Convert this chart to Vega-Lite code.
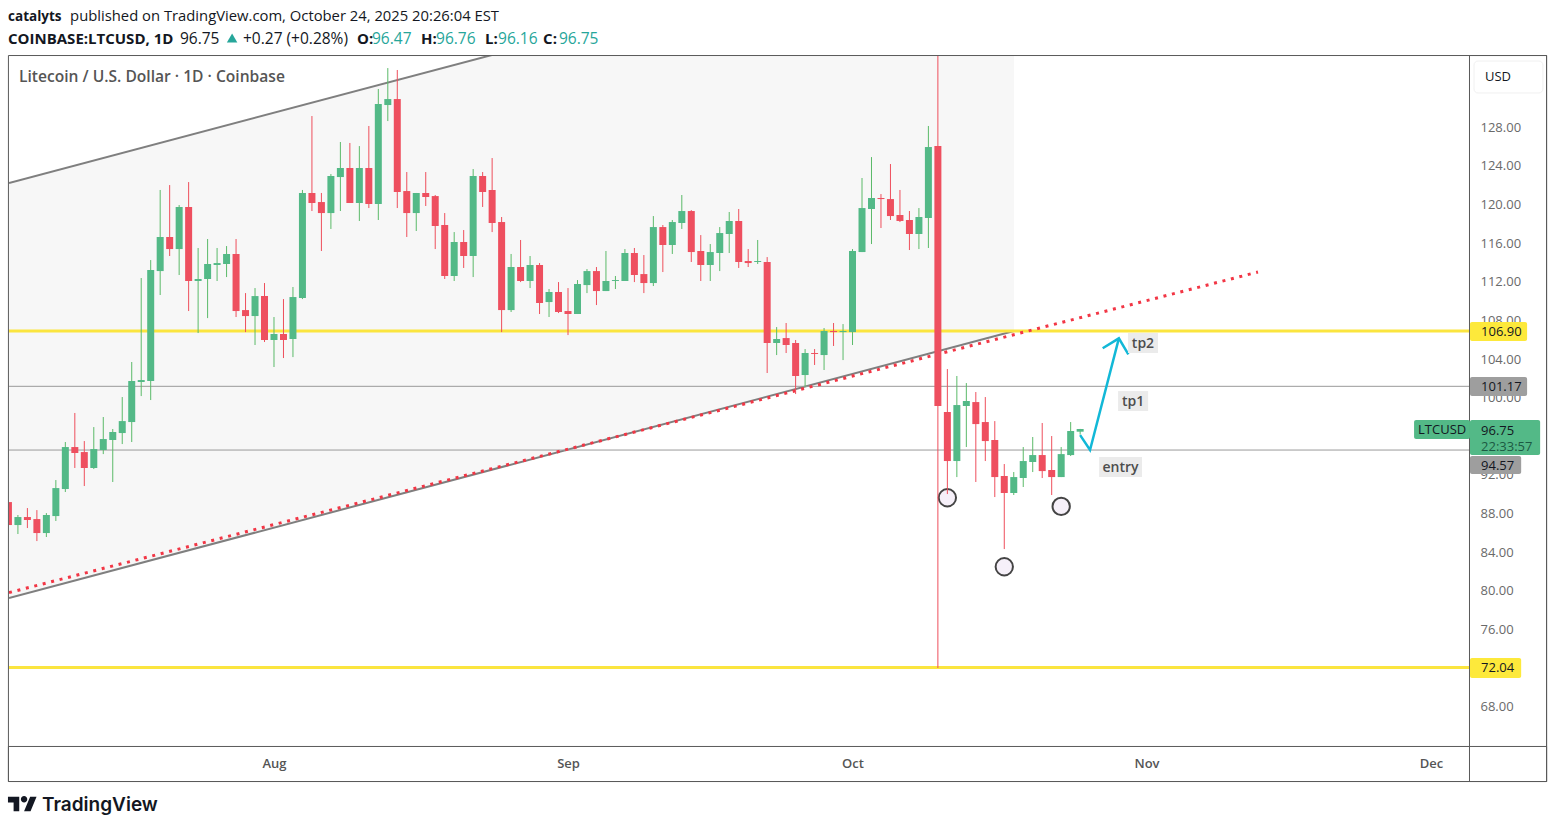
{"$schema":"https://vega.github.io/schema/vega-lite/v6.json","width":1460,"height":690,"autosize":{"type":"none"},"padding":{"left":9,"top":56,"right":86,"bottom":82},"background":"#ffffff","view":{"stroke":null},"config":{"text":{"font":"Open Sans"}},
"datasets":{"candles":[
{"d":"2025-07-04","o":89.18,"h":89.39,"l":85.76,"c":86.8},{"d":"2025-07-05","o":86.8,"h":87.84,"l":85.87,"c":87.63},{"d":"2025-07-06","o":87.63,"h":88.56,"l":86.49,"c":87.32},{"d":"2025-07-07","o":87.42,"h":88.35,"l":85.14,"c":85.97},{"d":"2025-07-08","o":85.97,"h":88.04,"l":85.56,"c":87.84},{"d":"2025-07-09","o":87.73,"h":91.46,"l":87.22,"c":90.63},{"d":"2025-07-10","o":90.53,"h":95.4,"l":90.22,"c":94.88},{"d":"2025-07-11","o":94.88,"h":98.41,"l":92.71,"c":94.26},{"d":"2025-07-12","o":94.36,"h":95.5,"l":90.84,"c":92.71},{"d":"2025-07-13","o":92.71,"h":96.95,"l":92.6,"c":94.67},{"d":"2025-07-14","o":94.57,"h":97.99,"l":94.15,"c":95.71},{"d":"2025-07-15","o":95.61,"h":96.75,"l":91.26,"c":96.44},{"d":"2025-07-16","o":96.33,"h":100.06,"l":95.19,"c":97.57},{"d":"2025-07-17","o":97.47,"h":103.69,"l":95.4,"c":101.72},{"d":"2025-07-18","o":101.62,"h":112.39,"l":100.16,"c":101.82},{"d":"2025-07-19","o":101.72,"h":114.25,"l":99.75,"c":113.22},{"d":"2025-07-20","o":113.11,"h":121.51,"l":110.63,"c":116.64},{"d":"2025-07-21","o":116.64,"h":122.02,"l":114.67,"c":115.39},{"d":"2025-07-22","o":115.39,"h":119.95,"l":112.7,"c":119.75},{"d":"2025-07-23","o":119.75,"h":122.33,"l":108.97,"c":112.08},{"d":"2025-07-24","o":112.08,"h":115.5,"l":106.69,"c":112.29},{"d":"2025-07-25","o":112.29,"h":116.43,"l":108.24,"c":113.84},{"d":"2025-07-26","o":113.74,"h":115.5,"l":112.08,"c":113.94},{"d":"2025-07-27","o":113.84,"h":115.7,"l":112.49,"c":114.88},{"d":"2025-07-28","o":114.88,"h":116.43,"l":108.35,"c":108.97},{"d":"2025-07-29","o":109.07,"h":110.83,"l":106.79,"c":108.45},{"d":"2025-07-30","o":108.45,"h":111.35,"l":105.45,"c":110.52},{"d":"2025-07-31","o":110.52,"h":111.87,"l":105.76,"c":105.97},
{"d":"2025-08-01","o":105.97,"h":108.35,"l":103.17,"c":106.59},{"d":"2025-08-02","o":106.59,"h":110.21,"l":104.1,"c":105.97},{"d":"2025-08-03","o":106.07,"h":111.46,"l":104.2,"c":110.42},{"d":"2025-08-04","o":110.32,"h":121.51,"l":110.21,"c":121.2},{"d":"2025-08-05","o":121.2,"h":129.17,"l":119.33,"c":120.16},{"d":"2025-08-06","o":120.26,"h":121.2,"l":115.19,"c":119.12},{"d":"2025-08-07","o":119.12,"h":123.16,"l":117.47,"c":122.96},{"d":"2025-08-08","o":122.85,"h":126.48,"l":119.33,"c":123.79},{"d":"2025-08-09","o":123.79,"h":126.38,"l":120.16,"c":120.16},{"d":"2025-08-10","o":120.16,"h":126.06,"l":118.3,"c":123.79},{"d":"2025-08-11","o":123.79,"h":128.14,"l":119.64,"c":120.06},{"d":"2025-08-12","o":120.06,"h":131.97,"l":118.4,"c":130.42},{"d":"2025-08-13","o":130.31,"h":134.14,"l":128.65,"c":130.93},{"d":"2025-08-14","o":130.93,"h":133.94,"l":119.64,"c":121.3},{"d":"2025-08-15","o":121.4,"h":123.37,"l":116.64,"c":119.12},{"d":"2025-08-16","o":119.12,"h":121.2,"l":117.26,"c":121.2},{"d":"2025-08-17","o":121.2,"h":123.37,"l":119.85,"c":120.78},{"d":"2025-08-18","o":120.88,"h":120.99,"l":115.39,"c":117.78},{"d":"2025-08-19","o":117.88,"h":119.12,"l":112.29,"c":112.6},{"d":"2025-08-20","o":112.6,"h":117.15,"l":112.08,"c":116.12},{"d":"2025-08-21","o":116.12,"h":117.36,"l":113.43,"c":114.67},{"d":"2025-08-22","o":114.67,"h":123.68,"l":112.49,"c":122.96},{"d":"2025-08-23","o":122.96,"h":123.37,"l":119.75,"c":121.3},{"d":"2025-08-24","o":121.51,"h":124.82,"l":117.15,"c":118.09},{"d":"2025-08-25","o":118.19,"h":118.71,"l":106.79,"c":109.07},{"d":"2025-08-26","o":109.07,"h":114.88,"l":108.87,"c":113.53},{"d":"2025-08-27","o":113.53,"h":116.33,"l":111.97,"c":112.08},{"d":"2025-08-28","o":112.08,"h":114.67,"l":111.35,"c":113.74},{"d":"2025-08-29","o":113.74,"h":113.94,"l":108.66,"c":109.8},{"d":"2025-08-30","o":109.9,"h":111.25,"l":108.35,"c":110.94},{"d":"2025-08-31","o":110.94,"h":111.97,"l":108.76,"c":108.87},
{"d":"2025-09-01","o":108.97,"h":111.35,"l":106.48,"c":108.66},{"d":"2025-09-02","o":108.66,"h":112.18,"l":108.66,"c":111.77},{"d":"2025-09-03","o":111.66,"h":113.32,"l":110.83,"c":113.11},{"d":"2025-09-04","o":113.11,"h":113.53,"l":109.59,"c":111.04},{"d":"2025-09-05","o":111.04,"h":115.19,"l":111.04,"c":112.08},{"d":"2025-09-06","o":112.08,"h":112.6,"l":111.25,"c":112.18},{"d":"2025-09-07","o":112.08,"h":115.39,"l":112.08,"c":114.98},{"d":"2025-09-08","o":114.98,"h":115.5,"l":111.97,"c":112.7},{"d":"2025-09-09","o":112.8,"h":114.77,"l":110.83,"c":111.87},{"d":"2025-09-10","o":111.87,"h":118.81,"l":111.56,"c":117.67},{"d":"2025-09-11","o":117.67,"h":117.88,"l":113.01,"c":115.81},{"d":"2025-09-12","o":115.81,"h":118.4,"l":114.88,"c":118.19},{"d":"2025-09-13","o":118.09,"h":120.99,"l":117.47,"c":119.33},{"d":"2025-09-14","o":119.33,"h":119.43,"l":114.05,"c":115.08},{"d":"2025-09-15","o":115.19,"h":116.84,"l":112.08,"c":113.74},{"d":"2025-09-16","o":113.74,"h":115.91,"l":112.08,"c":115.08},{"d":"2025-09-17","o":114.98,"h":117.67,"l":113.11,"c":117.05},{"d":"2025-09-18","o":116.95,"h":119.23,"l":114.98,"c":118.3},{"d":"2025-09-19","o":118.3,"h":119.54,"l":113.43,"c":114.05},{"d":"2025-09-20","o":114.15,"h":115.39,"l":113.53,"c":113.94},{"d":"2025-09-21","o":114.05,"h":116.33,"l":113.84,"c":114.15},{"d":"2025-09-22","o":114.05,"h":114.56,"l":102.55,"c":105.66},{"d":"2025-09-23","o":105.66,"h":107.31,"l":104.41,"c":106.07},{"d":"2025-09-24","o":106.17,"h":107.73,"l":104.62,"c":105.45},{"d":"2025-09-25","o":105.66,"h":105.97,"l":100.37,"c":102.24},{"d":"2025-09-26","o":102.34,"h":105.03,"l":101.1,"c":104.62},{"d":"2025-09-27","o":104.62,"h":105.03,"l":103.38,"c":104.52},{"d":"2025-09-28","o":104.41,"h":107.21,"l":102.86,"c":106.9},{"d":"2025-09-29","o":106.9,"h":107.73,"l":105.35,"c":106.79},{"d":"2025-09-30","o":106.79,"h":107.62,"l":103.89,"c":106.9},
{"d":"2025-10-01","o":106.79,"h":115.39,"l":105.45,"c":115.19},{"d":"2025-10-02","o":115.08,"h":122.75,"l":115.08,"c":119.64},{"d":"2025-10-03","o":119.54,"h":124.92,"l":115.91,"c":120.68},{"d":"2025-10-04","o":120.68,"h":121.09,"l":117.57,"c":120.57},{"d":"2025-10-05","o":120.57,"h":124.2,"l":118.4,"c":118.81},{"d":"2025-10-06","o":118.92,"h":121.51,"l":118.19,"c":118.3},{"d":"2025-10-07","o":118.4,"h":119.33,"l":115.29,"c":116.95},{"d":"2025-10-08","o":116.95,"h":119.64,"l":115.39,"c":118.71},{"d":"2025-10-09","o":118.61,"h":128.14,"l":115.5,"c":125.96},{"d":"2025-10-10","o":126.06,"h":136.5,"l":71.99,"c":99.13},{"d":"2025-10-11","o":98.51,"h":102.96,"l":90.01,"c":93.43},{"d":"2025-10-12","o":93.43,"h":102.24,"l":91.77,"c":99.23},{"d":"2025-10-13","o":99.13,"h":101.51,"l":94.88,"c":99.65},{"d":"2025-10-14","o":99.54,"h":100.58,"l":91.26,"c":97.26},{"d":"2025-10-15","o":97.47,"h":100.06,"l":93.43,"c":95.5},{"d":"2025-10-16","o":95.61,"h":97.57,"l":89.7,"c":91.77},{"d":"2025-10-17","o":91.88,"h":93.12,"l":84.31,"c":90.12},{"d":"2025-10-18","o":90.12,"h":92.29,"l":89.91,"c":91.77},{"d":"2025-10-19","o":91.67,"h":94.88,"l":90.74,"c":93.43},{"d":"2025-10-20","o":93.33,"h":95.92,"l":92.29,"c":94.05},{"d":"2025-10-21","o":94.05,"h":97.37,"l":91.67,"c":92.39},{"d":"2025-10-22","o":92.5,"h":96.02,"l":89.91,"c":91.77},{"d":"2025-10-23","o":91.77,"h":94.88,"l":91.77,"c":94.15},{"d":"2025-10-24","o":94.05,"h":97.47,"l":93.95,"c":96.54},{"d":"2025-10-25","o":96.47,"h":96.76,"l":96.16,"c":96.75}
]},
"encoding":{"x":{"field":"d","type":"temporal","scale":{"type":"utc","padding":0,"domain":[{"year":2025,"month":"jul","date":4,"hours":1,"minutes":26,"utc":true},{"year":2025,"month":"dec","date":5,"hours":0,"utc":true}],"nice":false},"axis":{"title":null,"format":"%b","tickCount":"month","grid":false,"ticks":false,"domain":false,"labelFont":"Open Sans","labelFontSize":13,"labelFontWeight":600,"labelColor":"#555555","labelPadding":11,"labelOverlap":false,"labelFlush":false}},
"y":{"field":"p","type":"quantitative","scale":{"domain":[63.91,135.39],"nice":false,"zero":false},"axis":{"title":null,"orient":"right","values":[68,72,76,80,84,88,92,96,100,104,108,112,116,120,124,128],"format":".2f","grid":false,"ticks":false,"domain":false,"labelFont":"Open Sans","labelFontSize":13,"labelColor":"#6a6a6a","labelPadding":11,"labelAlign":"left"}}},
"layer":[
{"data":{"values":[{"d":"2025-07-04T01:26:00Z","p":79.24,"p2":122.23},{"d":"2025-10-18T00:30:00Z","p":106.9,"p2":149.83}]},"mark":{"type":"area","color":"#f7f7f7","clip":true},"encoding":{"y2":{"field":"p2"}}},
{"data":{"values":[{"d":"2025-07-04T01:26:00Z","p":122.23},{"d":"2025-10-18T00:30:00Z","p":149.83}]},"mark":{"type":"line","color":"#7f7f7f","strokeWidth":2,"clip":true}},
{"data":{"values":[{"d":"2025-07-04T01:26:00Z","p":79.24},{"d":"2025-10-18T00:30:00Z","p":106.9}]},"mark":{"type":"line","color":"#7f7f7f","strokeWidth":2,"clip":true}},
{"data":{"values":[{"d":"2025-07-04T01:26:00Z","d2":"2025-12-05T00:00:00Z","p":101.17},{"d":"2025-07-04T01:26:00Z","d2":"2025-12-05T00:00:00Z","p":94.57}]},"mark":{"type":"rule","color":"#9a9a9a","strokeWidth":1},"encoding":{"x2":{"field":"d2"}}},
{"data":{"values":[{"d":"2025-07-04T01:26:00Z","d2":"2025-12-05T00:00:00Z","p":106.9},{"d":"2025-07-04T01:26:00Z","d2":"2025-12-05T00:00:00Z","p":72.04}]},"mark":{"type":"rule","color":"#fbe53f","strokeWidth":3},"encoding":{"x2":{"field":"d2"}}},
{"data":{"values":[{"d":"2025-07-04T01:26:00Z","p":79.8},{"d":"2025-11-12T18:00:00Z","p":113.01}]},"mark":{"type":"line","color":"#f23645","strokeWidth":3,"strokeDash":[3,5.7],"clip":true}},
{"data":{"values":[{"d":"2025-10-11","p":89.63},{"d":"2025-10-17","p":82.48},{"d":"2025-10-23","p":88.74}]},"mark":{"type":"point","shape":"circle","filled":false,"fill":"#f6f0f9","fillOpacity":1,"stroke":"#444444","strokeWidth":2,"size":300,"opacity":1}},
{"data":{"name":"candles"},"mark":{"type":"rule","strokeWidth":1,"clip":true},"encoding":{"y":{"field":"l","type":"quantitative","title":null},"y2":{"field":"h"},"color":{"condition":{"test":"datum.c>=datum.o","value":"#5bba69"},"value":"#ee4f5c"}}},
{"data":{"name":"candles"},"mark":{"type":"bar","width":7,"orient":"vertical","clip":true},"encoding":{"y":{"field":"o","type":"quantitative","title":null},"y2":{"field":"c"},"color":{"condition":{"test":"datum.c>=datum.o","value":"#53b987"},"value":"#ee4f5f"}}},
{"data":{"values":[{"seg":"shaft","k":1,"d":"2025-10-25T00:00:00Z","p":96.12},{"seg":"shaft","k":2,"d":"2025-10-26T01:00:00Z","p":94.57},{"seg":"shaft","k":3,"d":"2025-10-29T02:00:00Z","p":106.14},{"seg":"head","k":1,"d":"2025-10-27T09:00:00Z","p":105.11},{"seg":"head","k":2,"d":"2025-10-29T02:00:00Z","p":106.14},{"seg":"head","k":3,"d":"2025-10-30T02:00:00Z","p":104.48}]},"mark":{"type":"line","color":"#12b8d7","strokeWidth":2.5},"encoding":{"detail":{"field":"seg"},"order":{"field":"k"}}},
{"data":{"values":[{"d":"2025-10-30T01:00:00Z","d2":"2025-11-02T05:00:00Z","p":106.69,"p2":104.62},{"d":"2025-10-29T00:00:00Z","d2":"2025-11-01T04:00:00Z","p":100.68,"p2":98.61},{"d":"2025-10-27T00:00:00Z","d2":"2025-10-31T12:30:00Z","p":93.84,"p2":91.77}]},"mark":{"type":"rect","color":"#ebebeb"},"encoding":{"x2":{"field":"d2"},"y2":{"field":"p2"}}},
{"data":{"values":[{"d":"2025-10-31T15:00:00Z","p":105.56,"t":"tp2"},{"d":"2025-10-30T14:00:00Z","p":99.55,"t":"tp1"},{"d":"2025-10-29T06:00:00Z","p":92.7,"t":"entry"}]},"mark":{"type":"text","fontSize":14,"fontWeight":600,"color":"#4d4d4d","align":"center","baseline":"middle"},"encoding":{"text":{"field":"t"}}},
{"data":{"values":[{"d":"2025-07-04T00:00:00Z","d2":"2025-12-13T04:20:00Z","p":135.44,"p2":60.23},{"d":"2025-07-04T00:00:00Z","d2":"2025-12-13T04:20:00Z","p":63.86,"p2":60.23},{"d":"2025-12-05T01:15:00Z","d2":"2025-12-13T04:20:00Z","p":135.44,"p2":60.23}]},"mark":{"type":"rect","fillOpacity":0,"stroke":"#5a5a5a","strokeWidth":1,"clip":false},"encoding":{"x2":{"field":"d2"},"y2":{"field":"p2"}}},
{"data":{"values":[{"d":"2025-12-05T12:40:00Z","d2":"2025-12-12T19:00:00Z","p":134.87,"p2":131.56}]},"mark":{"type":"rect","fill":"#ffffff","stroke":"#f0f0f0","strokeWidth":1,"cornerRadius":4},"encoding":{"x2":{"field":"d2"},"y2":{"field":"p2"}}},
{"data":{"values":[{"d":"2025-12-05T02:30:00Z","d2":"2025-12-11T03:00:00Z","p":107.83,"p2":105.86},{"d":"2025-12-05T02:30:00Z","d2":"2025-12-10T12:00:00Z","p":73.02,"p2":70.95}]},"mark":{"type":"rect","color":"#fde93b","cornerRadius":2},"encoding":{"x2":{"field":"d2"},"y2":{"field":"p2"}}},
{"data":{"values":[{"d":"2025-12-05T02:30:00Z","d2":"2025-12-11T03:00:00Z","p":102.13,"p2":100.16},{"d":"2025-12-05T02:30:00Z","d2":"2025-12-10T12:00:00Z","p":93.95,"p2":92.08}]},"mark":{"type":"rect","color":"#9e9e9e","cornerRadius":2},"encoding":{"x2":{"field":"d2"},"y2":{"field":"p2"}}},
{"data":{"values":[{"d":"2025-11-29T05:00:00Z","d2":"2025-12-05T02:30:00Z","p":97.68,"p2":95.71},{"d":"2025-12-05T02:30:00Z","d2":"2025-12-12T12:00:00Z","p":97.68,"p2":94.05}]},"mark":{"type":"rect","color":"#53b987","cornerRadius":2},"encoding":{"x2":{"field":"d2"},"y2":{"field":"p2"}}},
{"data":{"values":[{"d":"2025-12-06T06:30:00Z","p":106.8,"t":"106.90"},{"d":"2025-12-06T06:30:00Z","p":101.07,"t":"101.17"},{"d":"2025-12-06T06:30:00Z","p":96.54,"t":"96.75"},{"d":"2025-12-06T06:30:00Z","p":92.9,"t":"94.57"},{"d":"2025-12-06T06:30:00Z","p":71.94,"t":"72.04"},{"d":"2025-11-29T15:00:00Z","p":96.6,"t":"LTCUSD"},{"d":"2025-12-06T16:30:00Z","p":133.22,"t":"USD"}]},"mark":{"type":"text","fontSize":13,"color":"#131722","align":"left","baseline":"middle"},"encoding":{"text":{"field":"t"}}},
{"data":{"values":[{"d":"2025-12-06T06:30:00Z","p":94.88,"t":"22:33:57"}]},"mark":{"type":"text","fontSize":13,"color":"#1c5a43","align":"left","baseline":"middle"},"encoding":{"text":{"field":"t"}}},
{"data":{"values":[{"d":"2025-07-05T02:40:00Z","p":133.22,"t":"Litecoin / U.S. Dollar · 1D · Coinbase"}]},"mark":{"type":"text","fontSize":15.6,"fontWeight":600,"color":"#555555","align":"left","baseline":"middle"},"encoding":{"text":{"field":"t"}}},
{"data":{"values":[{"d":"2025-07-03T23:00:00Z","p":139.43,"t":"catalyts"}]},"mark":{"type":"text","fontSize":13.5,"fontWeight":700,"color":"#131722","align":"left","baseline":"middle"},"encoding":{"text":{"field":"t"}}},
{"data":{"values":[{"d":"2025-07-03T23:00:00Z","p":137.15,"t":"COINBASE:LTCUSD, 1D"},{"d":"2025-08-09T18:00:00Z","p":137.15,"t":"O:"},{"d":"2025-08-16T12:00:00Z","p":137.15,"t":"H:"},{"d":"2025-08-23T06:00:00Z","p":137.15,"t":"L:"},{"d":"2025-08-29T09:00:00Z","p":137.15,"t":"C:"}]},"mark":{"type":"text","fontSize":15,"fontWeight":700,"color":"#131722","align":"left","baseline":"middle"},"encoding":{"text":{"field":"t"}}},
{"data":{"values":[{"d":"2025-07-10T12:00:00Z","p":139.43,"t":"published on TradingView.com, October 24, 2025 20:26:04 EST"}]},"mark":{"type":"text","fontSize":14.8,"color":"#131722","align":"left","baseline":"middle"},"encoding":{"text":{"field":"t"}}},
{"data":{"values":[{"d":"2025-07-22T02:00:00Z","p":137.15,"t":"96.75"},{"d":"2025-07-28T17:30:00Z","p":137.15,"t":"+0.27 (+0.28%)"}]},"mark":{"type":"text","fontSize":15.5,"color":"#131722","align":"left","baseline":"middle"},"encoding":{"text":{"field":"t"}}},
{"data":{"values":[{"d":"2025-08-11T08:00:00Z","p":137.15,"t":"96.47"},{"d":"2025-08-18T02:00:00Z","p":137.15,"t":"96.76"},{"d":"2025-08-24T15:00:00Z","p":137.15,"t":"96.16"},{"d":"2025-08-31T01:00:00Z","p":137.15,"t":"96.75"}]},"mark":{"type":"text","fontSize":15.5,"color":"#26a69a","align":"left","baseline":"middle"},"encoding":{"text":{"field":"t"}}},
{"data":{"values":[{"d":"2025-07-27T14:00:00Z","p":137.25}]},"mark":{"type":"point","shape":"triangle-up","filled":true,"color":"#26a69a","size":110,"opacity":1}},
{"data":{"values":[{"d":"2025-07-07T13:00:00Z","p":57.8,"t":"TradingView"}]},"mark":{"type":"text","fontSize":19,"fontWeight":600,"font":"Inter","color":"#131722","align":"left","baseline":"middle"},"encoding":{"text":{"field":"t"}}},
{"data":{"values":[{"d":"2025-07-05T11:30:00Z","p":57.9}]},"mark":{"type":"point","shape":"M-0.222 0.5H-0.611V-0.111H-1V-0.5H-0.222ZM0.556 0.5H0.111L0.528 -0.5H0.972ZM0.333 -0.333A0.222 0.222 0 1 0 -0.111 -0.333A0.222 0.222 0 1 0 0.333 -0.333Z","filled":true,"color":"#131722","size":841,"opacity":1}}
]}
